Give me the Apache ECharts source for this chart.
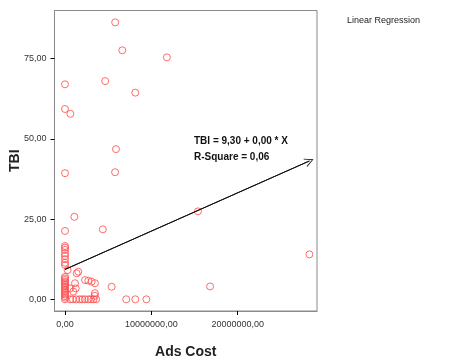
<!DOCTYPE html>
<html><head><meta charset="utf-8">
<script src="https://cdn.jsdelivr.net/npm/echarts@6/dist/echarts.min.js"></script>
<style>html,body{margin:0;padding:0;background:#fff}#c{width:454px;height:358px}</style>
</head><body><div id="c"></div>
<script>
// Observed points: [Ads Cost, TBI]
const adsCost = [
  5.81e6, 6.63e6, 11.8e6, 0, 4.65e6, 8.14e6, 0, 0.62e6, 5.9e6, 0, 5.8e6, 1.08e6, 0, 4.38e6, 15.4e6, 16.8e6, 28.3e6,
  0, 0, 0, 0, 0, 0, 0, 0, 0.3e6,
  0, 0, 0, 0, 0, 0, 0, 0, 0, 0, 0, 0, 0, 0, 0,
  1.54e6, 1.35e6, 1.16e6, 2.32e6, 2.7e6, 3.09e6, 3.47e6, 0.96e6, 0.58e6, 3.47e6, 5.4e6, 1.24e6, 3.45e6,
  0.6e6, 0.9e6, 1.3e6, 1.7e6, 2.0e6, 2.3e6, 2.7e6, 3.0e6, 3.3e6, 3.6e6, 7.09e6, 8.14e6, 9.42e6
];
const tbi = [
  86.3, 77.6, 75.4, 67.0, 68.0, 64.4, 59.3, 57.8, 46.8, 39.3, 39.6, 25.7, 21.3, 21.8, 27.4, 4.0, 14.0,
  16.6, 16.1, 15.4, 14.3, 13.5, 12.5, 11.4, 10.7, 9.1,
  7.0, 6.5, 6.0, 5.5, 5.0, 4.5, 4.0, 3.5, 3.0, 2.5, 2.0, 1.5, 1.0, 0.5, 0,
  8.6, 8.1, 5.0, 6.0, 5.8, 5.5, 5.0, 2.4, 3.4, 1.9, 3.9, 3.4, 1.1,
  0, 0, 0, 0, 0, 0, 0, 0, 0, 0, 0, 0, 0
];
const xTicks = [0, 10000000, 20000000];
const yTicks = [0, 25, 50, 75];
const lineX = [0, 28.3e6];
const lineY = [9.30, 43.1];
const eqText = 'TBI = 9,30 + 0,00 * X';
const rsqText = 'R-Square = 0,06';

const fmt = v => v.toFixed(2).replace('.', ',');
const pts = adsCost.map((x, i) => [x, tbi[i]]);
const FONT = '"Liberation Sans", Arial, sans-serif';

const chart = echarts.init(document.getElementById('c'), null, {renderer: 'canvas'});
chart.setOption({
  animation: false,
  backgroundColor: '#fff',
  grid: {left: 54.5, top: 10.5, right: 137, bottom: 47, outerBoundsMode: 'none', containLabel: false,
         show: true, borderColor: '#8a8a8a', borderWidth: 1, backgroundColor: '#fff'},
  xAxis: {
    type: 'value', min: -1.216e6, max: 29.18e6,
    name: 'Ads Cost', nameLocation: 'middle', nameGap: 34,
    nameTextStyle: {fontFamily: FONT, fontWeight: 'bold', fontSize: 14, color: '#222'},
    axisLine: {show: true, onZero: false, lineStyle: {color: '#8a8a8a'}},
    axisTick: {show: true, customValues: xTicks, length: 4, lineStyle: {color: '#000'}},
    axisLabel: {customValues: xTicks, formatter: v => fmt(v), fontFamily: FONT, fontSize: 9, color: '#333', margin: 9},
    splitLine: {show: false}
  },
  yAxis: {
    type: 'value', min: -3.65, max: 90,
    name: 'TBI', nameLocation: 'middle', nameGap: 32, nameMoveOverlap: false,
    nameTextStyle: {fontFamily: FONT, fontWeight: 'bold', fontSize: 14, color: '#222'},
    axisLine: {show: true, onZero: false, lineStyle: {color: '#8a8a8a'}},
    axisTick: {show: true, customValues: yTicks, length: 4, lineStyle: {color: '#000'}},
    axisLabel: {customValues: yTicks, formatter: v => fmt(v), fontFamily: FONT, fontSize: 9, color: '#333', margin: 8},
    splitLine: {show: false}
  },
  series: [
    {
      type: 'scatter', data: pts, symbol: 'circle', symbolSize: 7,
      itemStyle: {color: 'rgba(0,0,0,0)', borderColor: '#ff4848', borderWidth: 1},
      z: 3
    },
    {
      type: 'line', data: lineX.map((x, i) => [x, lineY[i]]), symbol: 'none',
      lineStyle: {color: '#111', width: 1}, z: 4,
      markLine: {
        silent: true, symbol: ['none', 'path://M5,0 L10,9 L9,9 L5,1.8 L1,9 L0,9 Z'], symbolSize: [9, 9],
        lineStyle: {color: '#111', width: 1, type: 'solid'}, label: {show: false},
        data: [[{coord: [lineX[0], lineY[0]]}, {coord: [lineX[1], lineY[1]]}]]
      }
    }
  ],
  graphic: [
    {type: 'text', left: 194, top: 136, style: {text: eqText, font: 'bold 10px ' + FONT, fill: '#111'}},
    {type: 'text', left: 194, top: 152, style: {text: rsqText, font: 'bold 10px ' + FONT, fill: '#111'}},
    {type: 'text', left: 347, top: 16, style: {text: 'Linear Regression', font: '9px ' + FONT, fill: '#222'}}
  ]
});
</script></body></html>
